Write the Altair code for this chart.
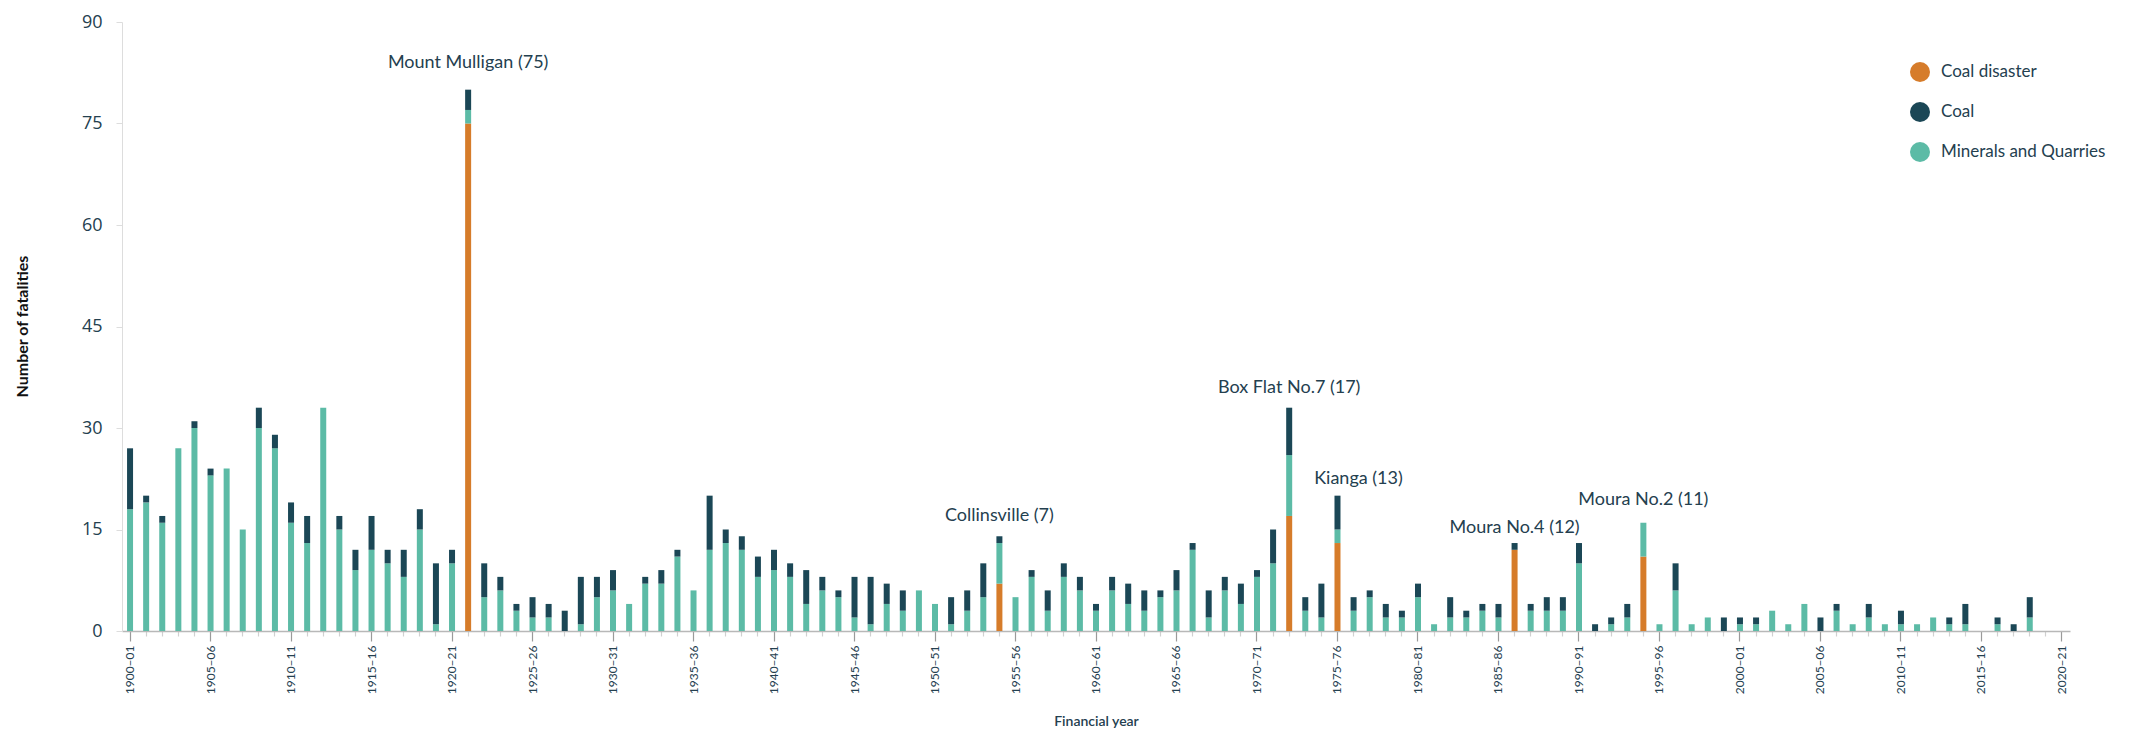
import altair as alt
import pandas as pd

# ---- data -----------------------------------------------------------------
start_years = list(range(1900, 2021))
years = [f"{y}\u2013{(y + 1) % 100:02d}" for y in start_years]

coal_disaster = {1921: 75, 1954: 7, 1972: 17, 1975: 13, 1986: 12, 1994: 11}

minerals = [18, 19, 16, 27, 30, 23, 24, 15, 30, 27,
            16, 13, 33, 15, 9, 12, 10, 8, 15, 1,
            10, 2, 5, 6, 3, 2, 2, 0, 1, 5,
            6, 4, 7, 7, 11, 6, 12, 13, 12, 8,
            9, 8, 4, 6, 5, 2, 1, 4, 3, 6,
            4, 1, 3, 5, 6, 5, 8, 3, 8, 6,
            3, 6, 4, 3, 5, 6, 12, 2, 6, 4,
            8, 10, 9, 3, 2, 2, 3, 5, 2, 2,
            5, 1, 2, 2, 3, 2, 0, 3, 3, 3,
            10, 0, 1, 2, 5, 1, 6, 1, 2, 0,
            1, 1, 3, 1, 4, 0, 3, 1, 2, 1,
            1, 1, 2, 1, 1, 0, 1, 0, 2, 0,
            0]

coal = [9, 1, 1, 0, 1, 1, 0, 0, 3, 2,
        3, 4, 0, 2, 3, 5, 2, 4, 3, 9,
        2, 3, 5, 2, 1, 3, 2, 3, 7, 3,
        3, 0, 1, 2, 1, 0, 8, 2, 2, 3,
        3, 2, 5, 2, 1, 6, 7, 3, 3, 0,
        0, 4, 3, 5, 1, 0, 1, 3, 2, 2,
        1, 2, 3, 3, 1, 3, 1, 4, 2, 3,
        1, 5, 7, 2, 5, 5, 2, 1, 2, 1,
        2, 0, 3, 1, 1, 2, 1, 1, 2, 2,
        3, 1, 1, 2, 0, 0, 4, 0, 0, 2,
        1, 1, 0, 0, 0, 2, 1, 0, 2, 0,
        2, 0, 0, 1, 3, 0, 1, 1, 3, 0,
        0]

series_names = ["Coal disaster", "Coal", "Minerals and Quarries"]
series_colors = ["#D67C2A", "#1B4756", "#5CBBA6"]
stack_rank = {"Coal disaster": 0, "Minerals and Quarries": 1, "Coal": 2}

annotations = [
    ("Mount Mulligan (75)", 1921),
    ("Collinsville (7)", 1954),
    ("Box Flat No.7 (17)", 1972),
    ("Kianga (13)", 1975),
    ("Moura No.4 (12)", 1986),
    ("Moura No.2 (11)", 1994),
]
# label placement styling (pixels above bar top, horizontal shift)
annot_style = {
    "Mount Mulligan (75)": (-22, 0),
    "Collinsville (7)": (-15, 0),
    "Box Flat No.7 (17)": (-15, 0),
    "Kianga (13)": (-12, 21),
    "Moura No.4 (12)": (-10, 0),
    "Moura No.2 (11)": (-18, 0),
}

# ---- table ----------------------------------------------------------------
rows = []
totals = {}
for i, (sy, lab) in enumerate(zip(start_years, years)):
    d = coal_disaster.get(sy, 0)
    vals = {"Coal disaster": d, "Minerals and Quarries": minerals[i], "Coal": coal[i]}
    totals[sy] = sum(vals.values())
    for s, v in vals.items():
        rows.append({"year": lab, "series": s, "value": v, "rank": stack_rank[s]})
df = pd.DataFrame(rows)

text_color = "#24404F"
major_test = "toNumber(substring(datum.value, 0, 4)) % 5 === 0"

x_enc = alt.X(
    "year:N",
    sort=years,
    scale=alt.Scale(paddingInner=0.627, paddingOuter=0.3135),
    axis=alt.Axis(
        title="Financial year",
        labelAngle=270,
        labelExpr=f"({major_test}) ? datum.value : ''",
        labelFont="Lato",
        labelFontSize=12,
        labelColor=text_color,
        labelPadding=4,
        labelAlign="right",
        labelBaseline="middle",
        tickSize={"condition": {"test": major_test, "value": 10}, "value": 5},
        tickColor={"condition": {"test": major_test, "value": "#9a9a9a"}, "value": "#d0d0d0"},
        tickWidth=1.2,
        domainColor="#b8b8b8",
        domainWidth=1.5,
        titleFont="Lato",
        titleFontSize=14,
        titleFontWeight=600,
        titleColor=text_color,
        titleY=94,
        titleBaseline="alphabetic",
    ),
)

bars = alt.Chart(df).mark_bar().encode(
    x=x_enc,
    y=alt.Y(
        "sum(value):Q",
        stack="zero",
        scale=alt.Scale(domain=[0, 90], nice=False),
        axis=alt.Axis(
            title="Number of fatalities",
            values=[0, 15, 30, 45, 60, 75, 90],
            labelFont="Open Sans",
            labelFontSize=18,
            labelColor=text_color,
            labelPadding=14,
            tickSize=6,
            tickColor="#dddddd",
            domainColor="#dddddd",
            grid=False,
            titleFont="Lato",
            titleFontSize=16,
            titleFontWeight="bold",
            titleColor="#111111",
            titleX=-100,
            titleY=304,
            titleAngle=270,
            titleAlign="center",
            titleBaseline="middle",
        ),
    ),
    color=alt.Color(
        "series:N",
        scale=alt.Scale(domain=series_names, range=series_colors),
        legend=alt.Legend(
            title=None,
            orient="none",
            legendX=1788,
            legendY=40,
            symbolType="circle",
            symbolSize=400,
            symbolStrokeWidth=0,
            symbolOpacity=1,
            labelFont="Lato",
            labelFontSize=17,
            labelColor=text_color,
            labelOffset=11,
            labelLimit=0,
            rowPadding=20,
        ),
    ),
    order=alt.Order("rank:Q", sort="ascending"),
)

layers = [bars]
for label, sy in annotations:
    dy, dx = annot_style[label]
    adf = pd.DataFrame({"year": [years[start_years.index(sy)]], "total": [totals[sy]], "label": [label]})
    layers.append(
        alt.Chart(adf).mark_text(
            font="Lato", fontSize=18, color=text_color, baseline="alphabetic",
            align="center", dy=dy, dx=dx,
        ).encode(
            x=alt.X("year:N", sort=years),
            y=alt.Y("total:Q"),
            text="label:N",
        )
    )

chart = alt.layer(*layers).properties(
    width=1948,
    height=609,
    autosize=alt.AutoSizeParams(type="none"),
    padding={"left": 114, "top": 14, "right": 54, "bottom": 97},
).configure_view(stroke=None)

chart.save("out.html", embed_options={"renderer": "svg", "actions": False})
